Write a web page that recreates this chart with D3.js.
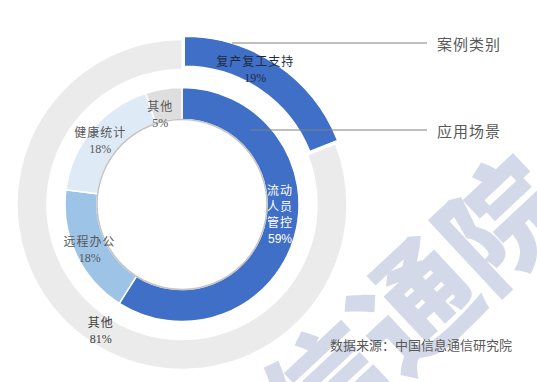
<!DOCTYPE html>
<html>
<head>
<meta charset="utf-8">
<script src="https://cdn.jsdelivr.net/npm/d3@7"></script>
<style>
  body { margin: 0; background: #fff; }
  text { font-family: "Noto Sans CJK SC", "DejaVu Sans", sans-serif; }
</style>
</head>
<body>
<div id="chart"></div>
<script>
// data
var outerCats = ["复产复工支持", "其他"];
var outerVals = [19, 81];
var innerCats = ["流动人员管控", "远程办公", "健康统计", "其他"];
var innerVals = [59, 18, 18, 5];
var calloutLabels = ["案例类别", "应用场景"];
var sourceNote = "数据来源：中国信息通信研究院";

var W = 537, H = 382;
var cx = 182, cy = 204.5;

var svg = d3.select("#chart").append("svg")
    .attr("width", W).attr("height", H);

svg.append("rect").attr("width", W).attr("height", H).attr("fill", "#fff");

// watermark behind everything
svg.append("text")
    .attr("transform", "translate(410,300) rotate(-43)")
    .attr("text-anchor", "middle")
    .attr("dominant-baseline", "central")
    .style("font-size", "120px")
    .style("font-weight", 900)
    .attr("fill", "#d3d9e8")
    .text("信通院");

var g = svg.append("g").attr("transform", "translate(" + cx + "," + cy + ")");

var pie = d3.pie().sort(null).value(d => d);

var outerColor = d3.scaleOrdinal().domain(outerCats.map((c, i) => i)).range(["#3f6fc6", "#ebebeb"]);
var innerColor = d3.scaleOrdinal().domain(innerCats.map((c, i) => i)).range(["#3f6fc6", "#9dc3e6", "#deebf7", "#dedede"]);

var outerArc = d3.arc().innerRadius(135).outerRadius(165);
var innerArc = d3.arc().innerRadius(85).outerRadius(117);

var outerData = pie(outerVals);
var innerData = pie(innerVals);

// outer ring, first slice pulled out a little
g.selectAll(".outer").data(outerData).enter().append("path")
    .attr("class", "outer")
    .attr("d", outerArc)
    .attr("transform", function(d, i) {
        if (i !== 0) return null;
        var a = (d.startAngle + d.endAngle) / 2;
        return "translate(" + (4 * Math.sin(a)) + "," + (-4 * Math.cos(a)) + ")";
    })
    .attr("fill", (d, i) => outerColor(i))
    .attr("stroke", "#fff").attr("stroke-width", 1.5);

// inner ring
g.selectAll(".inner").data(innerData).enter().append("path")
    .attr("class", "inner")
    .attr("d", innerArc)
    .attr("fill", (d, i) => innerColor(i))
    .attr("stroke", "#fff").attr("stroke-width", 1.5);

// soft shadow along the hole
g.append("circle").attr("r", 85).attr("fill", "none")
    .attr("stroke", "#c4c4c4").attr("stroke-width", 1.5);
g.append("circle").attr("r", 83.5).attr("fill", "#fff");

// labels
function addLabel(lines, x, y, color, lh, pctFont) {
    var t = g.append("text").attr("text-anchor", "middle").attr("fill", color)
        .style("font-size", "12px");
    lines.forEach(function(s, k) {
        t.append("tspan").attr("x", x).attr("y", y + k * lh)
            .style("font-family", /%$/.test(s) ? pctFont : null)
            .style("letter-spacing", /%$/.test(s) ? null : "1px")
            .text(s);
    });
}
var serif = "'Liberation Serif', 'DejaVu Serif', serif";

// outer labels
outerData.forEach(function(d, i) {
    var c = d3.arc().innerRadius(150).outerRadius(150).centroid(d);
    var nudge = i === 0 ? [-11, -14] : [3, -2];
    addLabel([outerCats[i], outerVals[i] + "%"], c[0] + nudge[0], c[1] + nudge[1],
        i === 0 ? "#1f2a44" : "#404040", 16, serif);
});

// inner labels
innerData.forEach(function(d, i) {
    var c = d3.arc().innerRadius(101).outerRadius(101).centroid(d);
    if (i === 0) {
        var lines = ["流动", "人员", "管控", innerVals[i] + "%"];
        addLabel(lines, c[0] + 1, c[1] - 38, "#fff", 16, "'Liberation Sans', sans-serif");
    } else {
        var nudge = [[0, 0], [-1, -2], [-4, -3], [-6, 6]][i];
        addLabel([innerCats[i], innerVals[i] + "%"], c[0] + nudge[0], c[1] + nudge[1],
            "#595959", 16, serif);
    }
});

// callout lines
var calloutY = [43, 130];
var calloutX0 = [232, 250];
calloutLabels.forEach(function(s, i) {
    svg.append("line")
        .attr("x1", calloutX0[i]).attr("x2", 427)
        .attr("y1", calloutY[i]).attr("y2", calloutY[i])
        .attr("stroke", "#808080").attr("stroke-width", 1);
    svg.append("text")
        .attr("x", 437).attr("y", calloutY[i] + 7)
        .attr("fill", "#595959")
        .style("font-size", "15px")
        .style("letter-spacing", "1px")
        .text(s);
});

// source note
svg.append("text")
    .attr("x", 512).attr("y", 350)
    .attr("text-anchor", "end")
    .attr("fill", "#595959")
    .style("font-size", "13px")
    .text(sourceNote);
</script>
</body>
</html>
